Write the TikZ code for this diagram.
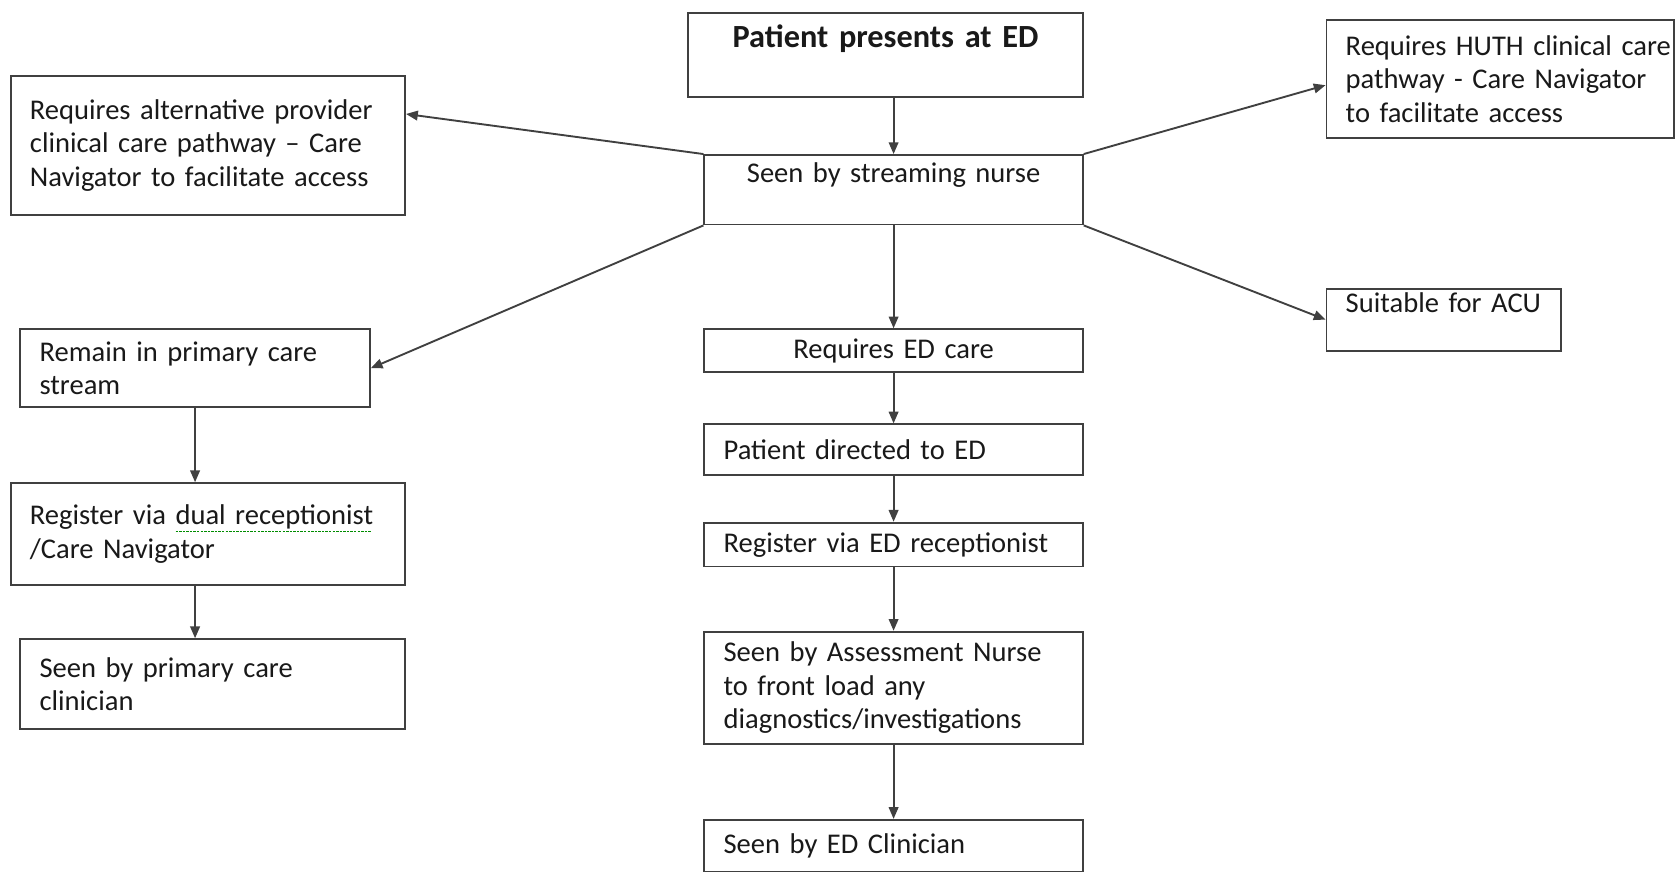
\documentclass[tikz,border=0pt]{standalone}
\usepackage{fontspec}
\setmainfont{Carlito}
\usetikzlibrary{arrows.meta}
\newsavebox{\spellbox}
\newcommand{\spellwave}[1]{\sbox{\spellbox}{#1}\rlap{\textcolor{green!55!black}{\leaders\hbox{\rule[-0.55ex]{1.3pt}{0.5pt}\hspace{0.6pt}}\hskip\wd\spellbox}}\usebox{\spellbox}}

\begin{document}
\begin{tikzpicture}[
    x=0.2mm, y=-0.2mm,
    box/.style={draw=black!75, line width=1pt, align=left, inner xsep=3.6mm, inner ysep=0pt, text=black!90, font=\fontsize{15.2}{17.9}\selectfont},
    mid/.style={box, text width=63.6mm},
    arr/.style={-{Triangle[length=2.2mm,width=1.8mm]}, line width=1pt, draw=black!75}
]
\useasboundingbox (0,0) rectangle (1568,815);
\fill[white] (0,0) rectangle (1568,815);

\node[box, text width=66.6mm, minimum height=15.8mm, align=center, font=\fontsize{17.2}{20}\selectfont\bfseries] (patient) at (828.5,51.5) {Patient presents at ED\\~};
\node[mid, minimum height=13mm, align=center] (nurse) at (836,177.5) {Seen by streaming nurse\\~};
\node[box, text width=66.6mm, minimum height=26mm] (altprov) at (194.5,136) {Requires alternative provider\\clinical care pathway -- Care\\Navigator to facilitate access};
\node[box, text width=57.8mm, minimum height=22mm] (huth) at (1403.5,74) {\mbox{Requires HUTH clinical care}\\pathway - Care Navigator\\to facilitate access};
\node[box, text width=36.6mm, minimum height=11.6mm] (acu) at (1350.5,299) {Suitable for ACU\\~};

\node[box, text width=58.2mm, minimum height=14.6mm] (remain) at (182.5,344.5) {Remain in primary care\\stream};
\node[box, text width=66.6mm, minimum height=19mm] (regdual) at (194.5,499.5) {Register via \spellwave{dual receptionist}\\/Care Navigator};
\node[box, text width=64.8mm, minimum height=16.8mm] (seenpc) at (199,640) {Seen by primary care\\clinician};

\node[mid, minimum height=8mm, align=center] (reqed) at (836,328) {Requires ED care};
\node[mid, minimum height=9.4mm] (directed) at (836,420.5) {Patient directed to ED};
\node[mid, minimum height=8.2mm] (reged) at (836,509.5) {Register via ED receptionist};
\node[mid, minimum height=21mm] (assess) at (836,643.5) {Seen by Assessment Nurse\\to front load any\\diagnostics/investigations};
\node[mid, minimum height=9.8mm] (clin) at (836,791.5) {Seen by ED Clinician};

\draw[arr] (nurse.north |- patient.south) -- (nurse.north);
\draw[arr] (nurse.north west) -- (altprov.9);
\draw[arr] (nurse.north east) -- (huth.182);
\draw[arr] (nurse.south west) -- (remain.east);
\draw[arr] (nurse.south east) -- (acu.west);
\draw[arr] (nurse) -- (reqed);
\draw[arr] (reqed) -- (directed);
\draw[arr] (directed) -- (reged);
\draw[arr] (reged) -- (assess);
\draw[arr] (assess) -- (clin);
\draw[arr] (remain.south) -- (remain.south |- regdual.north);
\draw[arr] (regdual.south -| remain.south) -- (seenpc.north -| remain.south);
\end{tikzpicture}
\end{document}
